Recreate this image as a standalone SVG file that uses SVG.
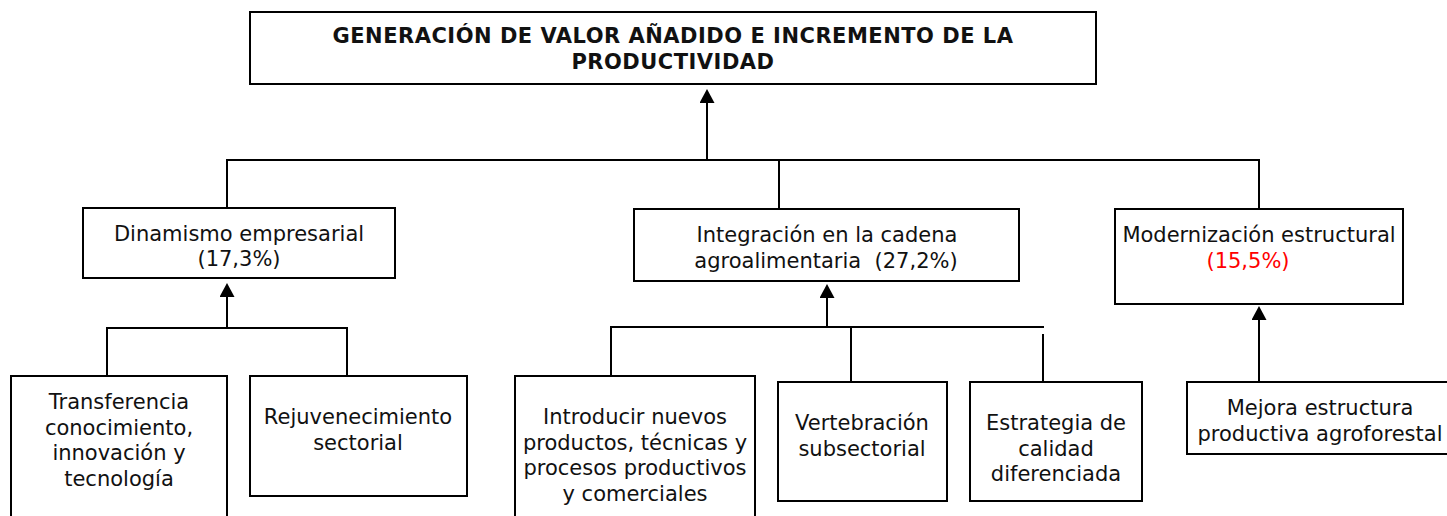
<svg xmlns="http://www.w3.org/2000/svg" width="1447" height="516" viewBox="0 0 1447 516">
<style>
.box{fill:#fff;stroke:#000;stroke-width:2}
.ln{fill:none;stroke:#000;stroke-width:2}
text{font-family:"DejaVu Sans",Verdana,sans-serif;font-size:21px;fill:#111;text-anchor:middle}
.b{font-weight:bold;font-size:21px;letter-spacing:0.5px}
.red{fill:#ff0000}
</style>
<defs>
<marker id="ah" markerUnits="userSpaceOnUse" markerWidth="16" markerHeight="16" refX="1" refY="7.5" orient="auto">
<path d="M0,0 L14,7.5 L0,15 z" fill="#000"/>
</marker>
</defs>
<rect width="1447" height="516" fill="#fff"/>
<g id="connectors">
<path class="ln" d="M707,160 V102" marker-end="url(#ah)"/>
<path class="ln" d="M227,209 V160 H1259 V209 M779,160 V209"/>
<path class="ln" d="M227,328 V296" marker-end="url(#ah)"/>
<path class="ln" d="M107,376 V328 H347 V376"/>
<path class="ln" d="M827,327 V297" marker-end="url(#ah)"/>
<path class="ln" d="M611,376 V327 H1044 M851,327 V382 M1043,334 V382"/>
<path class="ln" d="M1259,382 V319" marker-end="url(#ah)"/>
</g>
<g id="n-top">
<rect class="box" x="250" y="12" width="846" height="72"/>
<text class="b" x="673" y="43">GENERACIÓN DE VALOR AÑADIDO E INCREMENTO DE LA</text>
<text class="b" x="673" y="69">PRODUCTIVIDAD</text>
</g>
<g id="n-dinamismo">
<rect class="box" x="83" y="208" width="312" height="70"/>
<text x="239" y="241">Dinamismo empresarial</text>
<text x="239" y="266">(17,3%)</text>
</g>
<g id="n-integracion">
<rect class="box" x="634" y="209" width="385" height="72"/>
<text x="827" y="242">Integración en la cadena</text>
<text x="826" y="268" xml:space="preserve" style="white-space:pre">agroalimentaria  (27,2%)</text>
</g>
<g id="n-modernizacion">
<rect class="box" x="1115" y="209" width="288" height="95"/>
<text x="1259" y="242">Modernización estructural</text>
<text class="red" x="1248" y="268">(15,5%)</text>
</g>
<g id="n-transferencia">
<rect class="box" x="11" y="376" width="216" height="150"/>
<text x="119" y="409">Transferencia</text>
<text x="119" y="435">conocimiento,</text>
<text x="119" y="460">innovación y</text>
<text x="119" y="486">tecnología</text>
</g>
<g id="n-rejuvenecimiento">
<rect class="box" x="250" y="376" width="217" height="120"/>
<text x="358" y="424">Rejuvenecimiento</text>
<text x="358" y="450">sectorial</text>
</g>
<g id="n-introducir">
<rect class="box" x="515" y="376" width="240" height="150"/>
<text x="635" y="424">Introducir nuevos</text>
<text x="635" y="450">productos, técnicas y</text>
<text x="635" y="475">procesos productivos</text>
<text x="635" y="501">y comerciales</text>
</g>
<g id="n-vertebracion">
<rect class="box" x="778" y="382" width="169" height="119"/>
<text x="862" y="430">Vertebración</text>
<text x="862" y="456">subsectorial</text>
</g>
<g id="n-estrategia">
<rect class="box" x="970" y="382" width="172" height="119"/>
<text x="1056" y="430">Estrategia de</text>
<text x="1056" y="456">calidad</text>
<text x="1056" y="481">diferenciada</text>
</g>
<g id="n-mejora">
<rect class="box" x="1187" y="382" width="270" height="72"/>
<text x="1320" y="415">Mejora estructura</text>
<text x="1320" y="441">productiva agroforestal</text>
</g>
</svg>
